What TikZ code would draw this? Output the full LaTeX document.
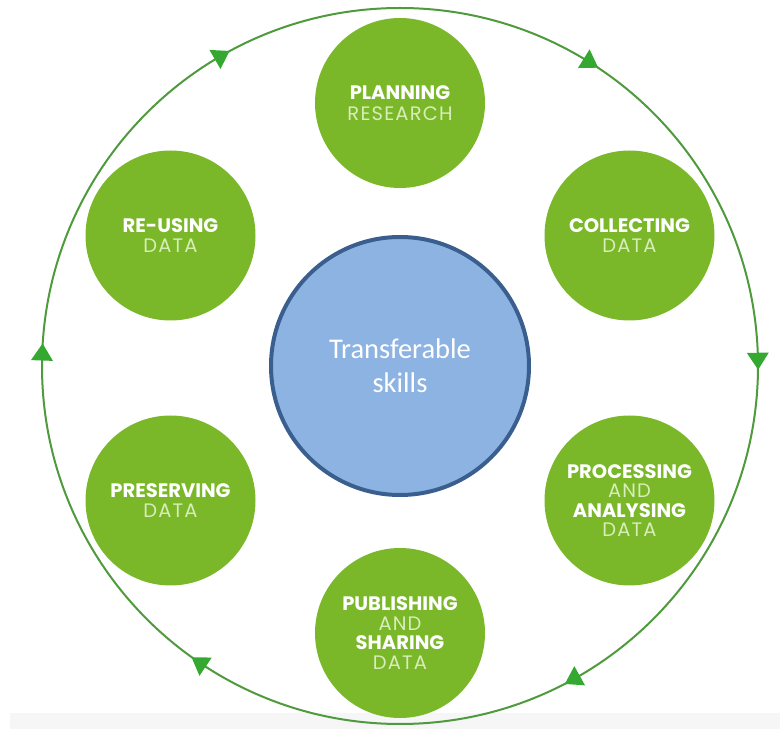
\documentclass[tikz,border=0pt]{standalone}
\usepackage{fontspec}
\usetikzlibrary{calc}
\newfontfamily\popf{Poppins}
\newfontfamily\popl{Poppins}[LetterSpace=6]
\newfontfamily\carl{Carlito}
\definecolor{stagegreen}{RGB}{122,184,42}
\definecolor{palegreen}{RGB}{216,237,184}
\definecolor{ringgreen}{RGB}{78,154,60}
\definecolor{tipgreen}{RGB}{52,168,48}
\definecolor{hubblue}{RGB}{141,179,226}
\definecolor{hubborder}{RGB}{58,95,143}
\definecolor{bandgray}{RGB}{246,246,246}
\tikzset{
  stage/.style={circle, fill=stagegreen, minimum size=170pt, inner sep=0pt,
    align=center, text=white, font=\popf\fontsize{19.5}{20.5}\selectfont},
  stagefour/.style={stage, font=\popf\fontsize{19.5}{19.5}\selectfont},
  hub/.style={circle, fill=hubblue, draw=hubborder, line width=4pt,
    minimum size=258pt, inner sep=0pt, align=center, text=white,
    font=\carl\fontsize{28.5}{34}\selectfont},
  ring/.style={draw=ringgreen, line width=2pt},
  tipfill/.style={fill=tipgreen}
}
\newcommand{\lite}[1]{{\popl\color{palegreen}#1}}
\begin{document}
\begin{tikzpicture}[x=1pt,y=1pt]
\useasboundingbox (0,0) rectangle (780,729);
\fill[bandgray] (10,0) rectangle (780,16);
\coordinate (C) at (400,363);
\coordinate (H) at (400,361);
% outer ring
\draw[ring] (C) circle (358);
\foreach \a in {58,1,-61,-124,178,120}{
  \fill[tipfill, shift={($(C)+(\a:358)$)}, rotate=\a-90]
    (10,0) -- (-7,11) -- (-7,-11) -- cycle;
}
% stages
\node[stage] (plan) at ($(H)+(90:265)$) {\textbf{PLANNING}\\\lite{RESEARCH}};
\node[stage] (collect) at ($(H)+(30:265)$) {\textbf{COLLECTING}\\\lite{DATA}};
\node[stagefour] (process) at ($(H)+(-30:265)$) {\textbf{PROCESSING}\\\lite{AND}\\\textbf{ANALYSING}\\\lite{DATA}};
\node[stagefour] (publish) at ($(H)+(-90:265)$) {\textbf{PUBLISHING}\\\lite{AND}\\\textbf{SHARING}\\\lite{DATA}};
\node[stage] (preserve) at ($(H)+(-150:265)$) {\textbf{PRESERVING}\\\lite{DATA}};
\node[stage] (reuse) at ($(H)+(150:265)$) {\textbf{RE-USING}\\\lite{DATA}};
% hub
\node[hub] (hub) at (400,363) {Transferable\\skills};
\end{tikzpicture}
\end{document}
